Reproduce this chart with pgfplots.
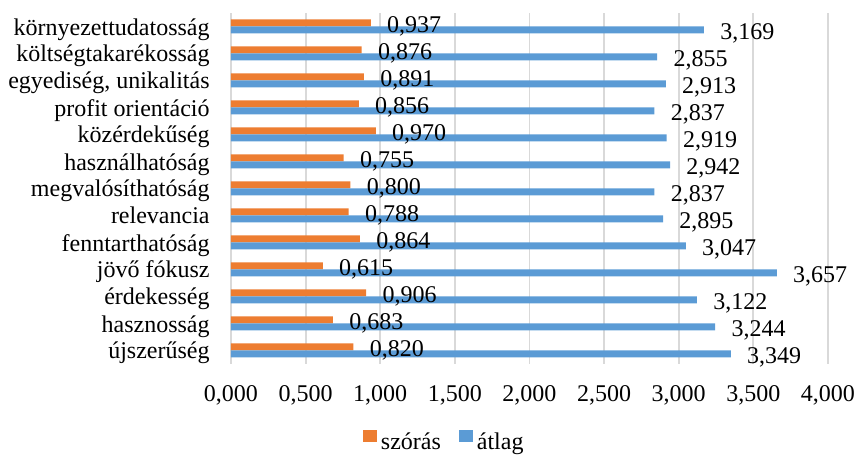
\documentclass[border=0pt,12pt]{standalone}
\usepackage{fontspec}
\setmainfont{Liberation Serif}
\usepackage{pgfplots}
\pgfplotsset{compat=1.18}
\definecolor{xlorange}{HTML}{ED7D31}
\definecolor{xlblue}{HTML}{5B9BD5}
\definecolor{xlgrid}{HTML}{D9D9D9}
\begin{document}
\begin{tikzpicture}
\useasboundingbox (-115.5pt,-45.5pt) rectangle (313.5pt,182pt);
\begin{axis}[
  at={(0,0)}, anchor=south west,
  scale only axis,
  width=298.5pt, height=175.5pt,
  xmin=0, xmax=4, ymin=-0.5, ymax=12.5,
  xtick={0,0.5,...,4},
  ytick={0,...,12},
  yticklabels={újszerűség,hasznosság,érdekesség,jövő fókusz,fenntarthatóság,relevancia,megvalósíthatóság,használhatóság,közérdekűség,profit orientáció,{egyediség, unikalitás},költségtakarékosság,környezettudatosság},
  /pgf/number format/assume math mode=true,
  xticklabel={\pgfmathprintnumber[fixed,zerofill,precision=3,use comma,assume math mode=true]{\tick}},
  xticklabel style={inner sep=0pt, anchor=base, yshift=-19pt},
  yticklabel style={inner sep=0pt, anchor=base east, xshift=-10.5pt, yshift=-4.25pt},
  major tick length=0pt,
  axis line style={draw=none},
  xmajorgrids,
  grid style={xlgrid, line width=0.9pt},
  xbar, bar width=3.5pt,
  point meta=x,
  nodes near coords={\pgfmathprintnumber[fixed,zerofill,precision=3,use comma,assume math mode=true]{\pgfplotspointmeta}},
  nodes near coords style={anchor=base west, inner sep=0pt, xshift=8pt, yshift=-4.8pt, text=black},
  legend columns=2,
  legend style={draw=none, at={(0.221,-0.221)}, anchor=west, inner sep=0pt, outer sep=0pt,
    /tikz/column sep=2pt,
    /tikz/every even column/.append style={column sep=9pt},
    nodes={inner sep=0pt}},
  legend image code/.code={\fill[#1] (0pt,0pt) rectangle (7pt,6pt);},
]
\addplot[fill=xlorange, draw=none, bar shift=1.75pt] coordinates {
(0.820,0) (0.683,1) (0.906,2) (0.615,3) (0.864,4) (0.788,5) (0.800,6) (0.755,7) (0.970,8) (0.856,9) (0.891,10) (0.876,11) (0.937,12)};
\addlegendentry{szórás}
\addplot[fill=xlblue, draw=none, bar shift=-1.75pt] coordinates {
(3.349,0) (3.244,1) (3.122,2) (3.657,3) (3.047,4) (2.895,5) (2.837,6) (2.942,7) (2.919,8) (2.837,9) (2.913,10) (2.855,11) (3.169,12)};
\addlegendentry{átlag}
\end{axis}
\end{tikzpicture}
\end{document}
